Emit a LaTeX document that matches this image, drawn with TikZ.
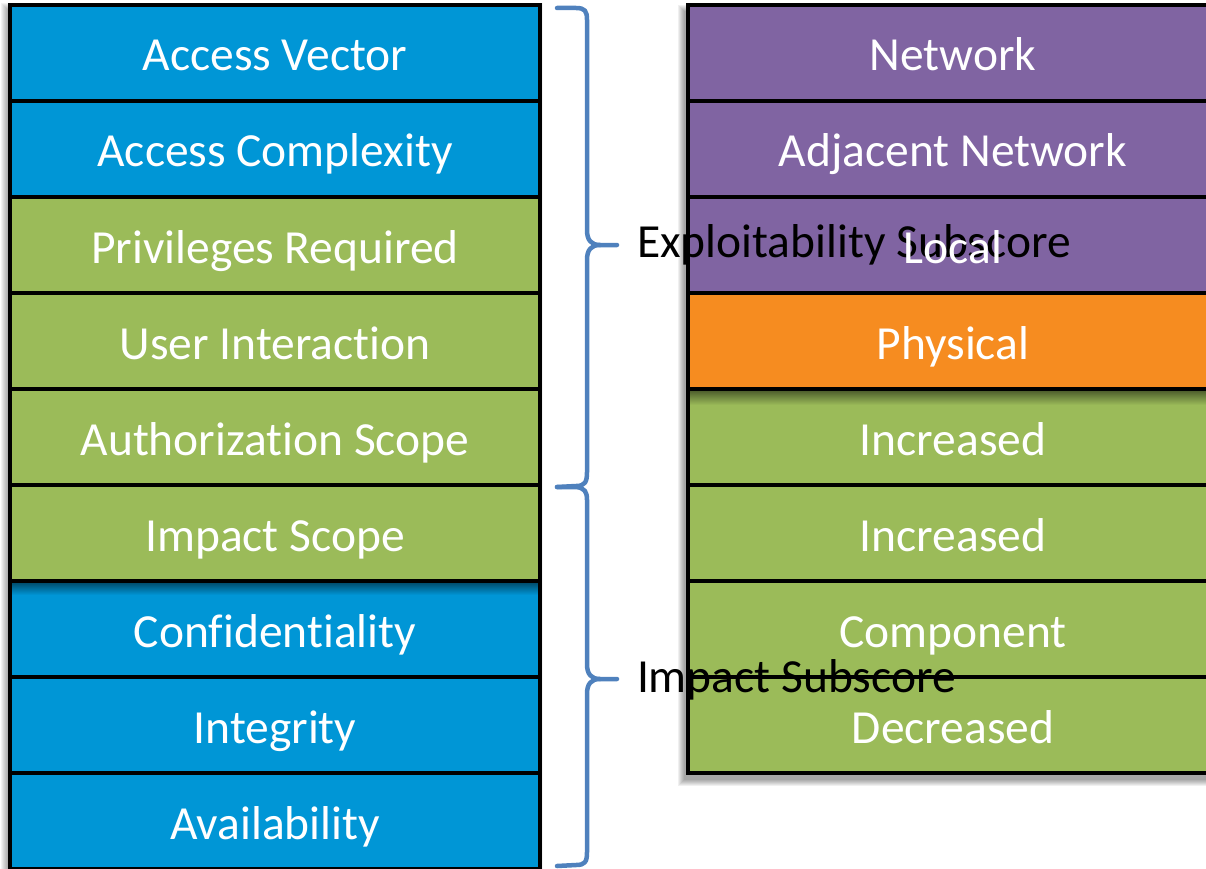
\documentclass[tikz,border=0pt]{standalone}
\usepackage{fontspec}
\setmainfont{Carlito}[Ligatures=NoCommon]
\pgfdeclarelayer{shadowlayer}
\pgfdeclarelayer{bg}
\pgfdeclarelayer{mid}
\pgfsetlayers{shadowlayer,bg,mid,main}
\definecolor{cvssblue}{RGB}{0,150,214}
\definecolor{cvssgreen}{RGB}{155,187,89}
\definecolor{cvsspurple}{RGB}{128,100,162}
\definecolor{cvssorange}{RGB}{246,140,32}
\definecolor{bracecol}{RGB}{79,129,189}
\tikzset{
  cell/.style={draw=black, line width=4.5pt, minimum width=530pt, minimum height=96pt,
    inner sep=0pt, outer sep=0pt, text=white, font=\fontsize{47.5}{57}\selectfont,
    text height=36pt, text depth=0pt, anchor=north west},
  annot/.style={anchor=base west, text=black, font=\fontsize{47.5}{57}\selectfont, inner sep=0pt, outer sep=0pt},
  bracepath/.style={draw=bracecol, line width=4.5pt, line cap=round, line join=round},
  topshade/.style={top color=black!55!#1, bottom color=#1}
}
\begin{document}
\begin{tikzpicture}[x=1pt,y=-1pt]
\useasboundingbox (0,0) rectangle (1206,869);
% soft shadows of the two columns
\begin{pgfonlayer}{shadowlayer}
\foreach \k in {0,...,6}{
  \fill[black,opacity=0.05] ({10-3-\k},{5+4-\k}) rectangle ({540-3+\k},{869+4+\k});
  \fill[black,opacity=0.06] ({688-4-\k},{5+6-\k}) rectangle ({1218-4+\k},{773+7+\k});
}
\end{pgfonlayer}
% left column
\foreach \name/\txt/\col [count=\i from 0] in {
  av/Access Vector/cvssblue,
  ac/Access Complexity/cvssblue,
  pr/Privileges Required/cvssgreen,
  ui/User Interaction/cvssgreen,
  as/Authorization Scope/cvssgreen,
  is/Impact Scope/cvssgreen,
  conf/Confidentiality/cvssblue,
  integ/Integrity/cvssblue,
  avail/Availability/cvssblue}{
  \node[cell] (\name) at (10,{5+96*\i}) {\txt};
  \begin{pgfonlayer}{bg}
    \fill[\col] (\name.north west) rectangle (\name.south east);
  \end{pgfonlayer}
}
% right column
\foreach \name/\txt/\col [count=\i from 0] in {
  net/Network/cvsspurple,
  adj/Adjacent Network/cvsspurple,
  loc/Local/cvsspurple,
  phys/Physical/cvssorange,
  incA/Increased/cvssgreen,
  incB/Increased/cvssgreen,
  comp/Component/cvssgreen,
  decr/Decreased/cvssgreen}{
  \node[cell] (\name) at (688,{5+96*\i}) {\txt};
  \begin{pgfonlayer}{bg}
    \fill[\col] (\name.north west) rectangle (\name.south east);
  \end{pgfonlayer}
}
% inner shadows cast by the box above
\begin{pgfonlayer}{bg}
  \shade[topshade=cvssgreen] (incA.north west) rectangle ([yshift=-16pt]incA.north east);
  \shade[topshade=cvssblue] (conf.north west) rectangle ([yshift=-14pt]conf.north east);
\end{pgfonlayer}
% braces
\coordinate (b1tip) at (617,245);
\coordinate (b2tip) at (617,679);
\draw[bracepath] (557,8) -- (576,8) .. controls (585,8) and (587,11) .. (587,20)
  -- (587,230) .. controls (587,240) and (591,245) .. (600,245) -- (b1tip);
\draw[bracepath] (600,245) .. controls (591,245) and (587,250) .. (587,260)
  -- (587,472) .. controls (587,482) and (585,486) .. (576,486) -- (557,487);
\draw[bracepath] (557,487) -- (576,487) .. controls (585,488) and (587,492) .. (587,500)
  -- (587,664) .. controls (587,674) and (591,679) .. (600,679) -- (b2tip);
\draw[bracepath] (600,679) .. controls (591,679) and (587,684) .. (587,694)
  -- (587,852) .. controls (587,862) and (585,865) .. (576,865) -- (557,866);
% annotations (under the box labels and borders)
\begin{pgfonlayer}{mid}
  \node[annot] (expl) at (637,257) {Exploitability Subscore};
  \node[annot] (imp) at (637,692) {Impact Subscore};
\end{pgfonlayer}
\end{tikzpicture}
\end{document}
